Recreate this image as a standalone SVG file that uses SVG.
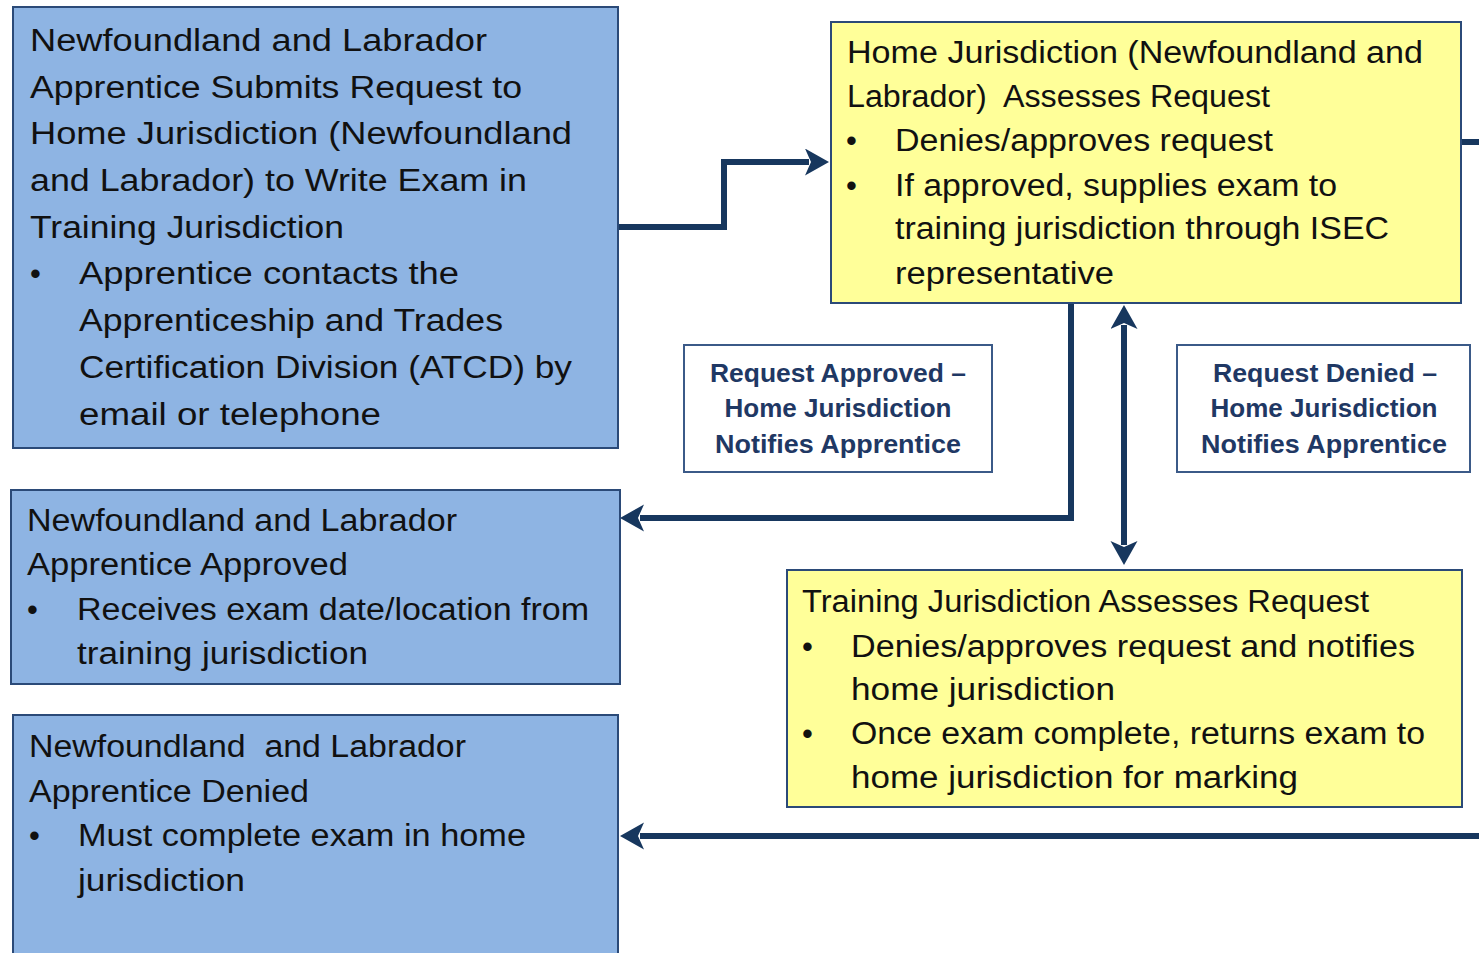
<svg xmlns="http://www.w3.org/2000/svg" width="1479" height="953" viewBox="0 0 1479 953">
<style>
.blue{fill:#8EB4E3;stroke:#2B4A78;stroke-width:2}
.yel{fill:#FFFF99;stroke:#2B4A78;stroke-width:2}
.lab{fill:#FFFFFF;stroke:#3B5A88;stroke-width:2}
.t{font-family:"Liberation Sans",Arial,sans-serif;font-size:31px;fill:#111111;white-space:pre}
.b{font-family:"Liberation Sans",Arial,sans-serif;font-size:25px;font-weight:bold;fill:#1F3864;text-anchor:middle}
.c{fill:none;stroke:#17375E;stroke-width:6}
</style>
<defs>
<marker id="ah" markerUnits="userSpaceOnUse" markerWidth="26" markerHeight="28" refX="4" refY="13.5" orient="auto-start-reverse">
<path d="M0,0 L24,13.5 L0,27 L6,13.5 Z" fill="#17375E"/>
</marker>
</defs>
<g id="connectors">
<polyline class="c" points="618,227 724,227 724,162 809,162" marker-end="url(#ah)"/>
<polyline class="c" points="1071,303 1071,518 640,518" marker-end="url(#ah)"/>
<line class="c" x1="1124" y1="325" x2="1124" y2="545" stroke-width="5" marker-start="url(#ah)" marker-end="url(#ah)"/>
<line class="c" x1="1462" y1="142" x2="1479" y2="142" stroke-width="7"/>
<line class="c" x1="1479" y1="836" x2="640" y2="836" marker-end="url(#ah)"/>
</g>
<g id="node-submit">
<rect class="blue" x="13" y="7" width="605" height="441"/>
<text class="t" x="30" y="51" textLength="457" lengthAdjust="spacingAndGlyphs">Newfoundland and Labrador</text>
<text class="t" x="30" y="98" textLength="492" lengthAdjust="spacingAndGlyphs">Apprentice Submits Request to</text>
<text class="t" x="30" y="144" textLength="542" lengthAdjust="spacingAndGlyphs">Home Jurisdiction (Newfoundland</text>
<text class="t" x="30" y="191" textLength="497" lengthAdjust="spacingAndGlyphs">and Labrador) to Write Exam in</text>
<text class="t" x="30" y="238" textLength="314" lengthAdjust="spacingAndGlyphs">Training Jurisdiction</text>
<text class="t" x="30" y="284">•</text>
<text class="t" x="79" y="284" textLength="380" lengthAdjust="spacingAndGlyphs">Apprentice contacts the</text>
<text class="t" x="79" y="331" textLength="424" lengthAdjust="spacingAndGlyphs">Apprenticeship and Trades</text>
<text class="t" x="79" y="378" textLength="493" lengthAdjust="spacingAndGlyphs">Certification Division (ATCD) by</text>
<text class="t" x="79" y="425" textLength="302" lengthAdjust="spacingAndGlyphs">email or telephone</text>
</g>
<g id="node-home-assess">
<rect class="yel" x="831" y="22" width="630" height="281"/>
<text class="t" x="847" y="63" textLength="576" lengthAdjust="spacingAndGlyphs">Home Jurisdiction (Newfoundland and</text>
<text class="t" x="847" y="107" textLength="423" lengthAdjust="spacingAndGlyphs">Labrador)  Assesses Request</text>
<text class="t" x="846" y="151">•</text>
<text class="t" x="895" y="151" textLength="378" lengthAdjust="spacingAndGlyphs">Denies/approves request</text>
<text class="t" x="846" y="196">•</text>
<text class="t" x="895" y="196" textLength="442" lengthAdjust="spacingAndGlyphs">If approved, supplies exam to</text>
<text class="t" x="895" y="239" textLength="494" lengthAdjust="spacingAndGlyphs">training jurisdiction through ISEC</text>
<text class="t" x="895" y="284" textLength="219" lengthAdjust="spacingAndGlyphs">representative</text>
</g>
<g id="label-approved">
<rect class="lab" x="684" y="345" width="308" height="127"/>
<text class="b" x="838" y="382" textLength="256" lengthAdjust="spacingAndGlyphs">Request Approved –</text>
<text class="b" x="838" y="417" textLength="227" lengthAdjust="spacingAndGlyphs">Home Jurisdiction</text>
<text class="b" x="838" y="453" textLength="246" lengthAdjust="spacingAndGlyphs">Notifies Apprentice</text>
</g>
<g id="label-denied">
<rect class="lab" x="1177" y="345" width="293" height="127"/>
<text class="b" x="1325" y="382" textLength="224" lengthAdjust="spacingAndGlyphs">Request Denied –</text>
<text class="b" x="1324" y="417" textLength="227" lengthAdjust="spacingAndGlyphs">Home Jurisdiction</text>
<text class="b" x="1324" y="453" textLength="246" lengthAdjust="spacingAndGlyphs">Notifies Apprentice</text>
</g>
<g id="node-approved">
<rect class="blue" x="11" y="490" width="609" height="194"/>
<text class="t" x="27" y="531" textLength="430" lengthAdjust="spacingAndGlyphs">Newfoundland and Labrador</text>
<text class="t" x="27" y="575" textLength="321" lengthAdjust="spacingAndGlyphs">Apprentice Approved</text>
<text class="t" x="27" y="620">•</text>
<text class="t" x="77" y="620" textLength="512" lengthAdjust="spacingAndGlyphs">Receives exam date/location from</text>
<text class="t" x="77" y="664" textLength="291" lengthAdjust="spacingAndGlyphs">training jurisdiction</text>
</g>
<g id="node-denied">
<rect class="blue" x="13" y="715" width="605" height="250"/>
<text class="t" x="29" y="757" textLength="437" lengthAdjust="spacingAndGlyphs">Newfoundland  and Labrador</text>
<text class="t" x="29" y="802" textLength="280" lengthAdjust="spacingAndGlyphs">Apprentice Denied</text>
<text class="t" x="29" y="846">•</text>
<text class="t" x="78" y="846" textLength="448" lengthAdjust="spacingAndGlyphs">Must complete exam in home</text>
<text class="t" x="78" y="891" textLength="167" lengthAdjust="spacingAndGlyphs">jurisdiction</text>
</g>
<g id="node-training-assess">
<rect class="yel" x="787" y="570" width="675" height="237"/>
<text class="t" x="802" y="612" textLength="567" lengthAdjust="spacingAndGlyphs">Training Jurisdiction Assesses Request</text>
<text class="t" x="802" y="657">•</text>
<text class="t" x="851" y="657" textLength="564" lengthAdjust="spacingAndGlyphs">Denies/approves request and notifies</text>
<text class="t" x="851" y="700" textLength="264" lengthAdjust="spacingAndGlyphs">home jurisdiction</text>
<text class="t" x="802" y="744">•</text>
<text class="t" x="851" y="744" textLength="574" lengthAdjust="spacingAndGlyphs">Once exam complete, returns exam to</text>
<text class="t" x="851" y="788" textLength="447" lengthAdjust="spacingAndGlyphs">home jurisdiction for marking</text>
</g>
</svg>
